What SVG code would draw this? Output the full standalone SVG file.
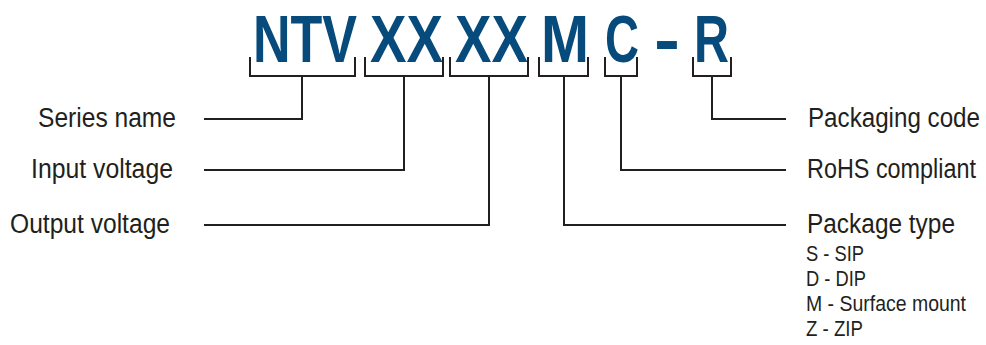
<svg xmlns="http://www.w3.org/2000/svg" width="986" height="345" viewBox="0 0 986 345">
<style>
.code{font-family:"Liberation Sans",Arial,sans-serif;font-weight:bold;font-size:67px;fill:#074b7c}
.lbl{font-family:"Liberation Sans",Arial,sans-serif;font-size:27px;fill:#231f20}
.sub{font-family:"Liberation Sans",Arial,sans-serif;font-size:22px;fill:#231f20}
.ln{fill:none;stroke:#231f20;stroke-width:2}
</style>
<rect width="986" height="345" fill="#fff"/>
<g id="code">
<text class="code" x="253" y="61.5" textLength="104" lengthAdjust="spacingAndGlyphs">NTV</text>
<text class="code" x="370" y="61.5" textLength="73" lengthAdjust="spacingAndGlyphs">XX</text>
<text class="code" x="455" y="61.5" textLength="73" lengthAdjust="spacingAndGlyphs">XX</text>
<text class="code" x="541" y="61.5" textLength="48" lengthAdjust="spacingAndGlyphs">M</text>
<text class="code" x="605" y="61.5" textLength="34" lengthAdjust="spacingAndGlyphs">C</text>
<text class="code" x="654" y="61.5" textLength="26" lengthAdjust="spacingAndGlyphs">-</text>
<text class="code" x="694" y="61.5" textLength="35" lengthAdjust="spacingAndGlyphs">R</text>
</g>
<g id="connectors">
<path class="ln" d="M250,57V76H355V57M302,76V119H204"/>
<path class="ln" d="M365,57V76H443V57M404,76V170H204"/>
<path class="ln" d="M450,57V76H528V57M489,76V225H204"/>
<path class="ln" d="M539,57V76H588V57M564,76V225H786"/>
<path class="ln" d="M605,57V76H637V57M621,76V170H786"/>
<path class="ln" d="M693,57V76H731V57M712,76V119H786"/>
</g>
<g id="series-name"><text class="lbl" x="176" y="127" text-anchor="end" textLength="138" lengthAdjust="spacingAndGlyphs">Series name</text></g>
<g id="input-voltage"><text class="lbl" x="173" y="178" text-anchor="end" textLength="142" lengthAdjust="spacingAndGlyphs">Input voltage</text></g>
<g id="output-voltage"><text class="lbl" x="170" y="233" text-anchor="end" textLength="160" lengthAdjust="spacingAndGlyphs">Output voltage</text></g>
<g id="packaging-code"><text class="lbl" x="808" y="127" textLength="172" lengthAdjust="spacingAndGlyphs">Packaging code</text></g>
<g id="rohs"><text class="lbl" x="807" y="178" textLength="169" lengthAdjust="spacingAndGlyphs">RoHS compliant</text></g>
<g id="package-type">
<text class="lbl" x="807" y="233" textLength="148" lengthAdjust="spacingAndGlyphs">Package type</text>
<text class="sub" x="806" y="261" textLength="58" lengthAdjust="spacingAndGlyphs">S - SIP</text>
<text class="sub" x="806" y="286" textLength="60" lengthAdjust="spacingAndGlyphs">D - DIP</text>
<text class="sub" x="806" y="311" textLength="160" lengthAdjust="spacingAndGlyphs">M - Surface mount</text>
<text class="sub" x="806" y="336" textLength="57" lengthAdjust="spacingAndGlyphs">Z - ZIP</text>
</g>
</svg>
